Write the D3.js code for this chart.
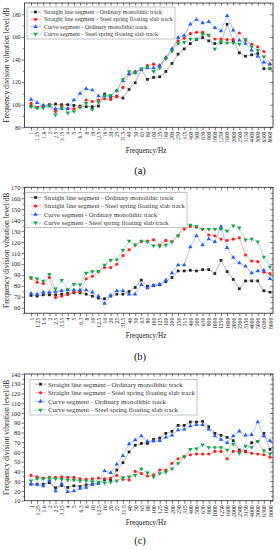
<!DOCTYPE html>
<html>
<head>
<meta charset="utf-8">
<script src="https://cdn.jsdelivr.net/npm/d3@7"></script>
<style>
  body { margin: 0; background: #fff; }
  svg { display: block; }
</style>
</head>
<body>
<div id="chart"></div>
<script>
// frequency bands (Hz)
var freqs = ["1","1.25","1.6","2","2.5","3.15","4","5","6.3","8","10","12.5","16","20","25","31.5","40","50","63","80",
  "100","125","160","200","250","315","400","500","630","800","1000","1250","1600","2000","2500","3150","4000","5000","6300","8000"];

var seriesNames = [
  "Straight line segment - Ordinary monolithic track",
  "Straight line segment - Steel spring floating slab track",
  "Curve segment - Ordinary monolithic track",
  "Curve segment - Steel spring floating slab track"
];

// panel (a)
var aStraightOrd = [98.8, 97.6, 98.8, 100, 100.6, 100, 100, 99.4, 98.8, 98.2, 98.2, 98.8, 109.4, 107, 107.6, 105.9, 113.5, 119.4, 131.2, 122.4,
  124.1, 124.7, 129.4, 136.5, 144.7, 149.4, 154.1, 157.6, 159.4, 156.5, 154.1, 154.7, 171.2, 156.5, 145.9, 142.9, 144.1, 145.3, 131.8, 131.8];
var aStraightSteel = [101.2, 97.6, 98.8, 100, 94.1, 98.8, 96.5, 96.5, 98.2, 104.1, 102.9, 104.1, 105.3, 104.7, 107, 115.3, 127.1, 129.4, 131.2, 134.7,
  135.9, 134.7, 141.2, 148.8, 156.5, 158.8, 162.9, 164.1, 164.1, 161.2, 158.2, 158.2, 157.6, 157.6, 163.5, 157.1, 153.5, 151.2, 147.1, 135.9];
var aCurveOrd = [104.7, 101.8, 99.4, 98.8, 96.5, 96.5, 96.5, 104.1, 110, 114.1, 112.9, 107.6, 107.6, 107.6, 112.4, 121.2, 127.1, 128.2, 131.2, 132.4,
  132.4, 134.7, 141.8, 149.4, 159.4, 161.2, 171.2, 175.3, 172.4, 173.5, 168.2, 165.3, 178.8, 165.9, 157.1, 154.1, 148.2, 142.9, 137.6, 135.9];
var aCurveSteel = [98.2, 97.1, 97.1, 99.4, 91.2, 97.6, 92.9, 94.1, 97.6, 101.2, 95.9, 102.4, 108.2, 108.2, 112.4, 122.4, 129.4, 128.2, 131.8, 133.5,
  129.4, 132.4, 140.6, 147.6, 154.1, 155.3, 158.2, 158.2, 162.4, 161.8, 149.4, 155.9, 154.7, 154.7, 153.5, 157.6, 151.2, 148.2, 142.4, 131.8];

// panel (b)
var bStraightOrd = [71.2, 70.6, 71.8, 71.8, 71.8, 72.4, 73.0, 73.6, 73.6, 72.4, 70.6, 68.8, 68.2, 70.6, 72.4, 72.4, 74.8, 78.5, 85.2, 79.7,
  80.3, 80.9, 83.9, 87.6, 93.6, 93.6, 94.2, 93.6, 94.8, 94.8, 91.2, 103.3, 93.0, 85.8, 77.3, 84.5, 84.5, 84.5, 75.5, 74.2];
var bStraightSteel = [87.0, 83.3, 82.1, 87.6, 69.4, 70.6, 71.8, 74.2, 74.8, 86.4, 88.8, 93.0, 96.7, 96.7, 99.7, 107.6, 113.0, 117.3, 120.3, 120.9,
  122.1, 117.3, 121.5, 120.3, 125.8, 131.8, 134.2, 133.6, 131.8, 126.4, 125.8, 122.7, 121.5, 122.7, 123.9, 108.2, 102.7, 102.1, 92.4, 91.2];
var bCurveOrd = [73.0, 72.4, 74.2, 74.2, 74.8, 75.5, 76.1, 76.1, 76.1, 76.1, 74.2, 70.6, 63.9, 71.2, 75.5, 75.5, 72.4, 72.4, 80.9, 77.9,
  80.3, 81.5, 85.2, 91.8, 99.1, 99.1, 115.5, 125.8, 117.3, 122.7, 120.3, 134.2, 114.8, 105.8, 100.9, 97.9, 91.8, 93.6, 94.2, 86.4];
var bCurveSteel = [87.6, 86.4, 84.5, 90.6, 77.3, 85.2, 76.7, 81.5, 80.9, 91.8, 93.0, 93.0, 99.1, 103.3, 103.9, 112.4, 120.9, 117.3, 120.9, 120.3,
  116.7, 116.1, 117.3, 120.3, 125.8, 135.5, 135.5, 134.2, 131.8, 131.8, 131.8, 131.8, 130.0, 134.8, 133.0, 122.1, 122.7, 120.3, 106.4, 97.3];

// panel (c)
var cStraightOrd = [27, 27, 27, 28.5, 23.3, 25.6, 23.6, 25.3, 24.6, 26.3, 27, 27.7, 31.5, 31.5, 41.5, 49, 60.0, 66.8, 68.8, 68.8,
  72.9, 74.3, 79.1, 81.2, 87.3, 87.3, 90.7, 90.7, 91.4, 85.9, 79.1, 77.1, 75.0, 71.6, 62.0, 60.6, 69.5, 70.9, 79.1, 62.7];
var cStraightSteel = [36.0, 34.6, 33.3, 33.9, 33.9, 34.6, 33.9, 33.9, 32.6, 31.9, 32.6, 33.3, 32.6, 33.3, 36.0, 31.9, 31.2, 40.1, 38.0, 35.3,
  36.7, 41.5, 41.5, 48.3, 53.1, 55.2, 57.2, 57.9, 57.9, 57.9, 60.6, 60.6, 53.1, 60.6, 60.6, 59.9, 58.6, 57.9, 57.2, 54.5];
var cCurveOrd = [27, 26.5, 25, 31, 20, 27.5, 19.2, 20, 22.6, 23.6, 26.7, 27.7, 40.6, 38.6, 47.5, 56, 68.2, 72.3, 76.4, 70.9,
  70.9, 71.6, 75.0, 77.1, 82.5, 83.2, 86.6, 88.0, 88.0, 83.2, 76.4, 72.9, 69.5, 76.4, 81.2, 77.1, 77.7, 90.7, 76.4, 71.6];
var cCurveSteel = [30.5, 32.6, 32.6, 33.3, 32.6, 31.9, 31.2, 31.2, 30.5, 30.5, 29.8, 29.2, 28.5, 29.2, 30.5, 33.9, 34.6, 36.0, 42.8, 38.7,
  34.6, 38.0, 39.4, 42.8, 48.3, 55.2, 62.7, 63.4, 67.5, 64.7, 64.7, 64.7, 62.0, 68.2, 58.6, 66.1, 64.7, 70.9, 61.3, 57.9];

var font = "'Liberation Serif', 'Times New Roman', serif";
var markerColors = ["#222222", "#ff1a1a", "#1f5bff", "#16a34a"];
var lineColors = ["#777777", "#ff6f6f", "#6a95ff", "#5ec486"];
var symbols = [d3.symbolSquare, d3.symbolCircle, d3.symbolTriangle, d3.symbolTriangle];
var symRotate = [0, 0, 0, 180];
var symSize = [7.5, 7.5, 8, 8];

var frameL = 24.5, frameR = 273;

var panels = [
  { label: "(a)", data: [aStraightOrd, aStraightSteel, aCurveOrd, aCurveSteel],
    top: 3, bottom: 127.3, domain: [80, 190], ticks: d3.range(80, 181, 20), minor: d3.range(90, 190, 20),
    yFont: 5.6, xFont: 5.3, titleY: 150, labelY: 170,
    legend: { x: 27, y: 7, w: 148, h: 32, rows: [12, 19.3, 26.7, 34], lx: 30, tx: 44, tw: 129 } },
  { label: "(b)", data: [bStraightOrd, bStraightSteel, bCurveOrd, bCurveSteel],
    top: 187.3, bottom: 313.2, domain: [55, 170], ticks: d3.range(60, 171, 10), minor: d3.range(55, 170, 10),
    yFont: 6.4, xFont: 5.7, titleY: 335, labelY: 356,
    legend: { x: 25, y: 192.7, w: 162, h: 35, rows: [197.5, 206, 214.4, 222.8], lx: 30, tx: 44, tw: 141 } },
  { label: "(c)", data: [cStraightOrd, cStraightSteel, cCurveOrd, cCurveSteel],
    top: 374, bottom: 500.7, domain: [10, 140], ticks: d3.range(10, 141, 10), minor: d3.range(15, 140, 10),
    yFont: 6.4, xFont: 5.9, titleY: 522, labelY: 540,
    legend: { x: 30, y: 379.3, w: 167, h: 35.7, rows: [384.2, 392.8, 401.4, 410], lx: 35, tx: 48, tw: 147 } }
];

var svg = d3.select("#chart").append("svg")
  .attr("width", 280)
  .attr("height", 550);

var x = d3.scalePoint().domain(freqs).range([31, 270]);

panels.forEach(function(p) {
  var g = svg.append("g");
  var y = d3.scaleLinear().domain(p.domain).range([p.bottom, p.top]);

  // bottom axis with rotated labels
  var bx = g.append("g")
    .attr("transform", "translate(0," + p.bottom + ")")
    .call(d3.axisBottom(x).tickSize(3).tickSizeOuter(0));
  bx.select(".domain").remove();
  bx.selectAll("line").attr("stroke", "#222").attr("stroke-width", 0.6);
  bx.selectAll("text")
    .attr("transform", "rotate(-90)")
    .attr("x", -4.5).attr("y", 0).attr("dy", "0.35em")
    .style("text-anchor", "end")
    .attr("font-family", font)
    .attr("font-size", p.xFont)
    .attr("fill", "#222");

  // mirrored top ticks
  var tx = g.append("g")
    .attr("transform", "translate(0," + p.top + ")")
    .call(d3.axisBottom(x).tickSize(2.5).tickSizeOuter(0).tickFormat(""));
  tx.select(".domain").remove();
  tx.selectAll("line").attr("stroke", "#222").attr("stroke-width", 0.6);

  // left axis
  var ly = g.append("g")
    .attr("transform", "translate(" + frameL + ",0)")
    .call(d3.axisLeft(y).tickValues(p.ticks).tickSize(3).tickSizeOuter(0));
  ly.select(".domain").remove();
  ly.selectAll("line").attr("stroke", "#222").attr("stroke-width", 0.6);
  ly.selectAll("text")
    .attr("x", -4)
    .attr("font-family", font)
    .attr("font-size", p.yFont)
    .attr("fill", "#222");
  var lm = g.append("g")
    .attr("transform", "translate(" + frameL + ",0)")
    .call(d3.axisLeft(y).tickValues(p.minor).tickSize(1.8).tickSizeOuter(0).tickFormat(""));
  lm.select(".domain").remove();
  lm.selectAll("line").attr("stroke", "#222").attr("stroke-width", 0.6);

  // right mirrored ticks
  [p.ticks, p.minor].forEach(function(vals, k) {
    var r = g.append("g")
      .attr("transform", "translate(" + frameR + ",0)")
      .call(d3.axisLeft(y).tickValues(vals).tickSize(k === 0 ? -3 : -1.8).tickSizeOuter(0).tickFormat(""));
    r.select(".domain").remove();
    r.selectAll("line").attr("x2", k === 0 ? -3 : -1.8).attr("stroke", "#222").attr("stroke-width", 0.6);
  });

  // frame
  g.append("rect")
    .attr("x", frameL).attr("y", p.top)
    .attr("width", frameR - frameL).attr("height", p.bottom - p.top)
    .attr("fill", "none").attr("stroke", "#222").attr("stroke-width", 0.8);

  // series
  p.data.forEach(function(vals, s) {
    var line = d3.line()
      .x(function(d, i) { return x(freqs[i]); })
      .y(function(d) { return y(d); });
    g.append("path")
      .datum(vals)
      .attr("d", line)
      .attr("fill", "none")
      .attr("stroke", lineColors[s])
      .attr("stroke-width", 0.55);
    g.selectAll(null)
      .data(vals)
      .join("path")
      .attr("d", d3.symbol().type(symbols[s]).size(symSize[s]))
      .attr("transform", function(d, i) {
        return "translate(" + x(freqs[i]) + "," + y(d) + ") rotate(" + symRotate[s] + ")";
      })
      .attr("fill", markerColors[s]);
  });

  // legend
  var L = p.legend;
  var lg = g.append("g");
  lg.append("rect")
    .attr("x", L.x).attr("y", L.y).attr("width", L.w).attr("height", L.h)
    .attr("fill", "#fff").attr("stroke", "#999").attr("stroke-width", 0.6);
  var texts = [];
  seriesNames.forEach(function(name, s) {
    var cy = L.rows[s];
    lg.append("line")
      .attr("x1", L.lx).attr("x2", L.lx + 11)
      .attr("y1", cy).attr("y2", cy)
      .attr("stroke", lineColors[s]).attr("stroke-width", 0.6);
    lg.append("path")
      .attr("d", d3.symbol().type(symbols[s]).size(symSize[s]))
      .attr("transform", "translate(" + (L.lx + 5.5) + "," + cy + ") rotate(" + symRotate[s] + ")")
      .attr("fill", markerColors[s]);
    texts.push(lg.append("text")
      .attr("x", L.tx).attr("y", cy).attr("dy", "0.35em")
      .attr("font-family", font)
      .attr("font-size", 6)
      .attr("fill", "#333")
      .text(name));
  });
  // fit font size so that the longest entry has the measured width
  var w = texts[1].node().getComputedTextLength();
  var fs = 6 * L.tw / w;
  texts.forEach(function(t) { t.attr("font-size", fs); });

  // y title
  g.append("text")
    .attr("transform", "translate(6," + ((p.top + p.bottom) / 2) + ") rotate(-90)")
    .attr("text-anchor", "middle")
    .attr("dy", "0.35em")
    .attr("font-family", font)
    .attr("font-size", 7.6)
    .attr("fill", "#222")
    .text("Frequency division vibration level/dB");

  // x title
  g.append("text")
    .attr("x", 146).attr("y", p.titleY)
    .attr("text-anchor", "middle")
    .attr("dy", "0.35em")
    .attr("font-family", font)
    .attr("font-size", 7.2)
    .attr("fill", "#222")
    .text("Frequency/Hz");

  // panel label
  g.append("text")
    .attr("x", 140).attr("y", p.labelY)
    .attr("text-anchor", "middle")
    .attr("dy", "0.35em")
    .attr("font-family", font)
    .attr("font-size", 10.5)
    .attr("fill", "#111")
    .text(p.label);
});
</script>
</body>
</html>
